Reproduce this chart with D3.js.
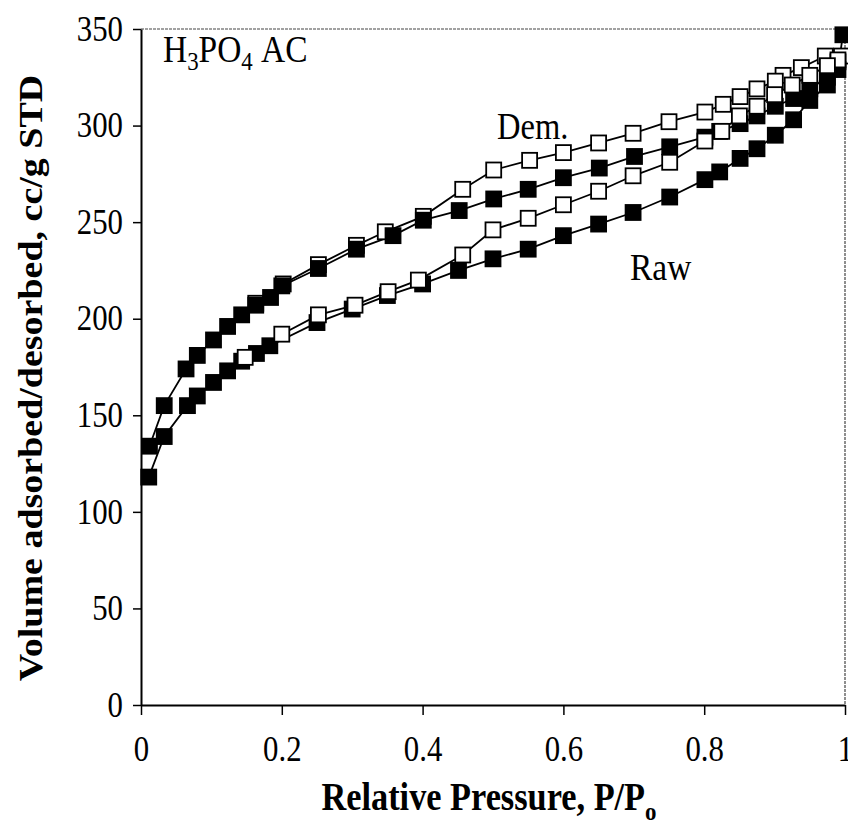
<!DOCTYPE html>
<html>
<head>
<meta charset="utf-8">
<script src="https://cdn.jsdelivr.net/npm/d3@7"></script>
<style>
  body { margin: 0; background: #fff; }
  svg text { font-family: "Liberation Serif", "Times New Roman", serif; fill: #000; }
</style>
</head>
<body>
<div id="chart"></div>
<script>
// Dem. sample, adsorption branch (filled squares)
const demAdsP = [0.012, 0.033, 0.064, 0.08, 0.103, 0.123, 0.143, 0.163, 0.184, 0.2, 0.252, 0.306, 0.358, 0.401, 0.452, 0.501, 0.55, 0.6, 0.651, 0.701, 0.751, 0.801, 0.822, 0.851, 0.875, 0.901, 0.927, 0.95, 0.975, 0.99];
const demAdsV = [134, 155, 174, 181, 189, 196, 202, 207, 211, 217, 226, 236, 243, 251, 256, 262, 267, 273, 278, 284, 289, 294, 297, 301, 305, 310, 314, 319, 325, 333];
// Dem. sample, desorption branch (open squares)
const demDesP = [0.995, 0.972, 0.938, 0.912, 0.901, 0.875, 0.851, 0.827, 0.801, 0.75, 0.699, 0.65, 0.6, 0.552, 0.501, 0.457, 0.401, 0.347, 0.306, 0.252, 0.202, 0.163];
const demDesV = [336, 336, 330, 326, 323, 319, 315, 311, 307, 302, 296, 291, 286, 282, 277, 267, 253, 245, 238, 228, 218, 208];
// Raw sample, adsorption branch (filled squares)
const rawAdsP = [0.011, 0.033, 0.066, 0.08, 0.103, 0.123, 0.143, 0.164, 0.183, 0.25, 0.3, 0.35, 0.4, 0.451, 0.5, 0.55, 0.6, 0.65, 0.699, 0.751, 0.801, 0.822, 0.851, 0.875, 0.901, 0.927, 0.95, 0.975, 0.99, 0.997];
const rawAdsV = [118, 139, 155, 160, 167, 173, 178, 182, 186, 198, 205, 212, 218, 225, 231, 236, 243, 249, 255, 263, 272, 276, 283, 288, 295, 303, 313, 321, 329, 347];
// Raw sample, desorption branch (open squares)
const rawDesP = [0.99, 0.975, 0.95, 0.925, 0.9, 0.875, 0.85, 0.825, 0.801, 0.751, 0.699, 0.65, 0.6, 0.55, 0.5, 0.457, 0.394, 0.351, 0.304, 0.252, 0.2, 0.148];
const rawDesV = [334, 331, 326, 321, 316, 310, 305, 297, 292, 281, 274, 266, 259, 252, 246, 233, 220, 214, 207, 202, 192, 180];

const yTicks = [0, 50, 100, 150, 200, 250, 300, 350];
const xTicks = [0, 0.2, 0.4, 0.6, 0.8, 1];

const svg = d3.select("#chart").append("svg")
    .attr("width", 848).attr("height", 825);

const x = d3.scaleLinear().domain([0, 1]).range([141, 845]);
const y = d3.scaleLinear().domain([0, 350]).range([705, 29]);

const fontSize = 35;
const squeeze = 0.88;   // glyphs in the scan are narrow and tall

// frame (top and right edges, thin)
svg.append("line").attr("x1", x(0)).attr("x2", x(1)).attr("y1", y(350)).attr("y2", y(350))
    .attr("stroke", "#444").attr("stroke-width", 1.2).attr("stroke-dasharray", "3,1");
svg.append("line").attr("x1", x(1)).attr("x2", x(1)).attr("y1", y(350)).attr("y2", y(0))
    .attr("stroke", "#444").attr("stroke-width", 1.2).attr("stroke-dasharray", "3,1");

// axes
const yAxis = svg.append("g").attr("transform", `translate(${x(0)},0)`)
    .call(d3.axisLeft(y).tickValues(yTicks).tickSize(8).tickPadding(11).tickSizeOuter(0));
const xAxis = svg.append("g").attr("transform", `translate(0,${y(0)})`)
    .call(d3.axisBottom(x).tickValues(xTicks).tickSize(10).tickPadding(21).tickSizeOuter(0)
        .tickFormat(d => String(d)));

[yAxis, xAxis].forEach(g => {
    g.select(".domain").attr("stroke", "#000").attr("stroke-width", 2);
    g.selectAll(".tick line").attr("stroke", "#000").attr("stroke-width", 1.5);
    g.selectAll(".tick text")
        .style("font-family", '"Liberation Serif", serif')
        .style("font-size", fontSize + "px")
        .attr("fill", "#000");
});
// squeeze tick labels horizontally about their anchor
yAxis.selectAll(".tick text").attr("transform", `translate(-11,0) scale(${squeeze},1) translate(11,0)`);
xAxis.selectAll(".tick text").attr("transform", `scale(${squeeze},1)`);

// series
const series = [
    {p: demDesP, v: demDesV, filled: false},
    {p: demAdsP, v: demAdsV, filled: true},
    {p: rawAdsP, v: rawAdsV, filled: true},
    {p: rawDesP, v: rawDesV, filled: false}
];
const line = d3.line().x(d => x(d[0])).y(d => y(d[1]));
const size = 15;

series.forEach(s => {
    const pts = s.p.map((p, i) => [p, s.v[i]]);
    svg.append("path").attr("d", line(pts))
        .attr("fill", "none").attr("stroke", "#000").attr("stroke-width", 1.8);
});
series.forEach(s => {
    const pts = s.p.map((p, i) => [p, s.v[i]]);
    svg.append("g").selectAll("rect").data(pts).enter().append("rect")
        .attr("x", d => x(d[0]) - size / 2).attr("y", d => y(d[1]) - size / 2)
        .attr("width", size).attr("height", size)
        .attr("fill", s.filled ? "#000" : "#fff")
        .attr("stroke", "#000").attr("stroke-width", 1.8);
});

// annotations
function label(px, py, size) {
    return svg.append("text")
        .attr("transform", `translate(${px},${py}) scale(${squeeze},1)`)
        .style("font-size", size + "px");
}

const h = label(163, 62, 38);
h.append("tspan").text("H");
h.append("tspan").text("3").attr("dy", 8).style("font-size", "26px");
h.append("tspan").text("PO").attr("dy", -8);
h.append("tspan").text("4").attr("dy", 8).style("font-size", "26px");
h.append("tspan").text("\u00a0AC").attr("dy", -8);

label(497, 139, 37).text("Dem.");
label(630, 280, 38).text("Raw");

// axis titles
const xt = svg.append("text")
    .attr("transform", `translate(489,810) scale(${squeeze},1)`)
    .attr("text-anchor", "middle")
    .style("font-size", "39px").style("font-weight", "bold");
xt.append("tspan").text("Relative Pressure, P/P");
xt.append("tspan").text("o").attr("dy", 10).style("font-size", "26px");

svg.append("text")
    .attr("transform", `translate(42,378) rotate(-90) scale(1,${squeeze})`)
    .attr("text-anchor", "middle")
    .style("font-size", "38px").style("font-weight", "bold")
    .text("Volume adsorbed/desorbed, cc/g STD");
</script>
</body>
</html>
